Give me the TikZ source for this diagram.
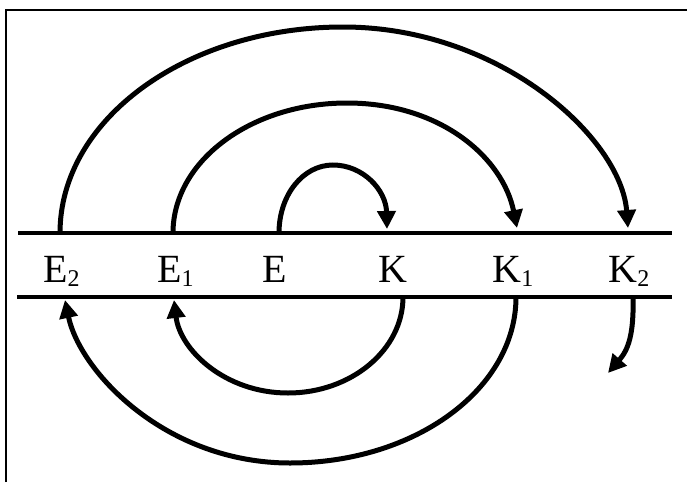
\documentclass[tikz,border=0pt]{standalone}
\usepackage{fontspec}
\setmainfont{Liberation Serif}
\usetikzlibrary{arrows.meta}
\newcommand\sbs[1]{\raisebox{-4pt}{\fontsize{24}{24}\selectfont #1}}
\begin{document}
\begin{tikzpicture}[x=1pt,y=-1pt,
  lab/.style={anchor=base,inner sep=0pt,font=\fontsize{40}{48}\selectfont},
  rail/.style={line width=4pt},
  arc/.style={line width=5pt},
  arrowarc/.style={line width=5pt,-{Triangle[length=18pt,width=18pt]}},
  frame/.style={line width=2.5pt}]
\useasboundingbox (0,0) rectangle (687,482);
% frame (top and left edges only)
\coordinate (f1) at (6,482);
\coordinate (f2) at (6,10);
\coordinate (f3) at (687,10);
\draw[frame] (f1) -- (f2) -- (f3);
% rails
\coordinate (ra) at (18,233);
\coordinate (rb) at (672,233);
\coordinate (rc) at (17,297);
\coordinate (rd) at (672,297);
\draw[rail] (ra) -- (rb);
\draw[rail] (rc) -- (rd);
% labels
\node[lab] (E2) at (61.5,282) {E\sbs{2}};
\node[lab] (E1) at (175.5,282) {E\sbs{1}};
\node[lab] (E)  at (275,282) {E};
\node[lab] (K)  at (392.5,282) {K};
\node[lab] (K1) at (513,282) {K\sbs{1}};
\node[lab] (K2) at (629,282) {K\sbs{2}};
% arc end points
\coordinate (sE2) at (60,233);
\coordinate (sE1) at (173,233);
\coordinate (sE)  at (279,233);
\coordinate (tK)  at (387,229);
\coordinate (tK1) at (517,228);
\coordinate (tK2) at (628,228);
\coordinate (bK)  at (403,297);
\coordinate (bK1) at (516,297);
\coordinate (bK2) at (633,297);
\coordinate (tE1) at (174,300);
\coordinate (tE2) at (65,300);
\coordinate (tK2b) at (608,373);
% apexes
\coordinate (a1) at (333,165);
\coordinate (a2) at (347,103);
\coordinate (a3) at (343,27);
\coordinate (b1) at (288,393);
\coordinate (b2) at (290,463);
% upper arcs
\draw[arrowarc] (sE) .. controls (279,195) and (303,165) .. (a1)
  .. controls (363,165) and (386,190) .. (tK);
\draw[arrowarc] (sE1) .. controls (173,161) and (251,103) .. (a2)
  .. controls (441,103) and (503,158) .. (tK1);
\draw[arrowarc] (sE2) .. controls (60,119) and (187,27) .. (a3)
  .. controls (500,27) and (621,138) .. (tK2);
% lower arcs
\draw[arrowarc] (bK) .. controls (403,350) and (351,393) .. (b1)
  .. controls (225,393) and (180,350) .. (tE1);
\draw[arrowarc] (bK1) .. controls (516,389) and (415,463) .. (b2)
  .. controls (166,463) and (80,372) .. (tE2);
\draw[arrowarc] (bK2) .. controls (634,335) and (628,350) .. (tK2b);
\end{tikzpicture}
\end{document}
